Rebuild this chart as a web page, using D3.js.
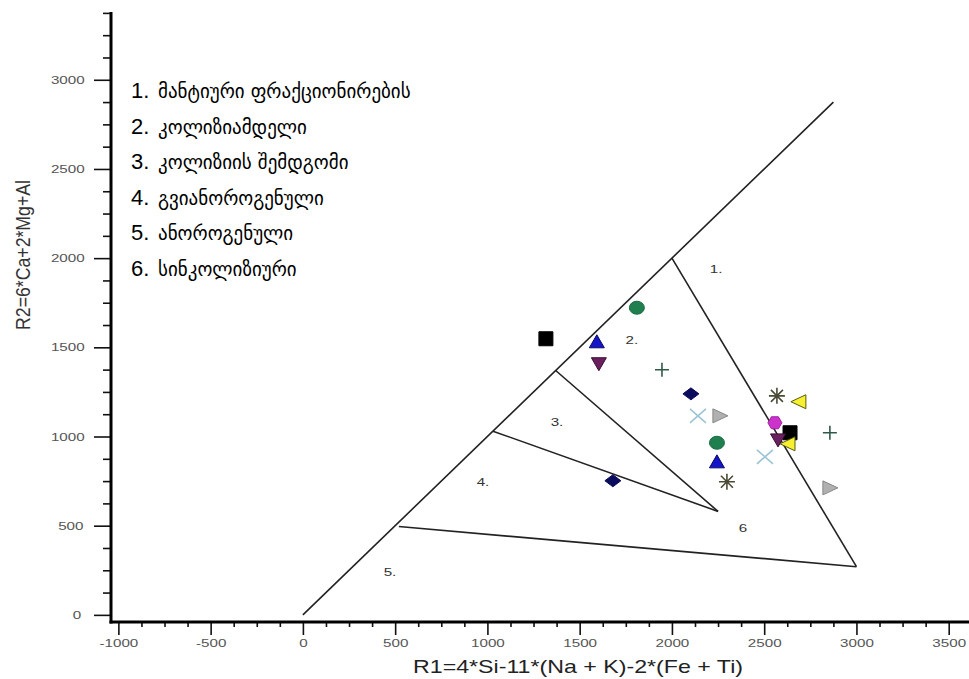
<!DOCTYPE html>
<html>
<head>
<meta charset="utf-8">
<script src="https://cdn.jsdelivr.net/npm/d3@7"></script>
<style>
  body { margin: 0; background: #fff; }
  .wide { transform-box: fill-box; transform-origin: center; transform: scaleX(1.38); }
</style>
</head>
<body>
<div id="graph"></div>
<script>
const width = 969;
const height = 679;

// axis ticks
const xTicks = [-1000, -500, 0, 500, 1000, 1500, 2000, 2500, 3000, 3500];
const yTicks = [0, 500, 1000, 1500, 2000, 2500, 3000];

// field boundaries (R1, R2)
const boundaries = [
  [[0, 0], [2875, 2875]],
  [[2000, 2000], [3000, 270]],
  [[520, 495], [3000, 270]],
  [[1370, 1370], [2250, 580]],
  [[1030, 1030], [2250, 580]]
];

// field numbers
const fieldLabels = ["1.", "2.", "3.", "4.", "5.", "6"];
const fieldPos = [[2240, 1940], [1783, 1542], [1377, 1082], [976, 746], [472, 241], [2385, 488]];

// legend
const legendItems = [
  "მანტიური ფრაქციონირების",
  "კოლიზიამდელი",
  "კოლიზიის შემდგომი",
  "გვიანოროგენული",
  "ანოროგენული",
  "სინკოლიზიური"
];

// samples (R1, R2)
const blackSquare = [[1317, 1548], [2640, 1021]];
const greenCircle = [[1810, 1722], [2244, 965]];
const blueTriangle = [[1593, 1531], [2244, 858]];
const purpleTriangleDown = [[1604, 1408], [2575, 981]];
const darkPlus = [[1946, 1374], [2856, 1021]];
const navyDiamond = [[2103, 1239], [1680, 752]];
const lightBlueX = [[2141, 1116], [2504, 886]];
const greyTriangleRight = [[2260, 1116], [2856, 712]];
const oliveAsterisk = [[2298, 746], [2569, 1228]];
const yellowTriangleLeft = [[2688, 1195], [2629, 959]];
const magentaHexagon = [[2558, 1077]];

const svg = d3.select("#graph")
  .append("svg")
  .attr("width", width)
  .attr("height", height)
  .style("font-family", "'Liberation Sans', Arial, sans-serif");

const x = d3.scaleLinear().domain([-1040, 3610]).range([111, 969]);
const y = d3.scaleLinear().domain([-40, 3380]).range([622, 12]);

const minorX = d3.range(-1000, 3600, 125).filter(v => v % 500 !== 0);
const minorY = d3.range(0, 3400, 125).filter(v => v % 500 !== 0);

// x axis
const gx = svg.append("g").attr("transform", `translate(0,${y.range()[0]})`);
gx.append("g").call(d3.axisBottom(x).tickValues(minorX).tickSize(5).tickFormat(""));
gx.append("g").call(d3.axisBottom(x).tickValues(xTicks).tickSize(13).tickPadding(4).tickFormat(d => String(d)));
gx.selectAll(".domain").remove();
gx.selectAll("line").attr("stroke", "#111").attr("stroke-width", 1.6);
gx.selectAll("text")
  .attr("class", "wide")
  .attr("font-size", 11)
  .attr("fill", "#555")
  .attr("font-family", "'Liberation Sans', Arial, sans-serif");

// y axis
const gy = svg.append("g").attr("transform", `translate(${x.range()[0]},0)`);
gy.append("g").call(d3.axisLeft(y).tickValues(minorY).tickSize(8).tickFormat(""));
gy.append("g").call(d3.axisLeft(y).tickValues(yTicks).tickSize(17).tickPadding(14).tickFormat(d => String(d)));
gy.selectAll(".domain").remove();
gy.selectAll("line").attr("stroke", "#111").attr("stroke-width", 1.6);
gy.selectAll("text")
  .attr("class", "wide")
  .attr("font-size", 11)
  .attr("fill", "#555")
  .attr("font-family", "'Liberation Sans', Arial, sans-serif");

// axis lines
svg.append("line")
  .attr("x1", x.range()[0]).attr("x2", x.range()[0])
  .attr("y1", y.range()[1]).attr("y2", y.range()[0] + 1.5)
  .attr("stroke", "#000").attr("stroke-width", 3);
svg.append("line")
  .attr("x1", x.range()[0] - 1.5).attr("x2", x.range()[1])
  .attr("y1", y.range()[0]).attr("y2", y.range()[0])
  .attr("stroke", "#000").attr("stroke-width", 3);

// axis titles
svg.append("text")
  .attr("x", 578).attr("y", 673)
  .attr("text-anchor", "middle")
  .attr("font-size", 19)
  .attr("fill", "#222")
  .attr("textLength", 330)
  .attr("lengthAdjust", "spacingAndGlyphs")
  .text("R1=4*Si-11*(Na + K)-2*(Fe + Ti)");

svg.append("text")
  .attr("transform", "translate(30,255) rotate(-90) scale(1,1.2)")
  .attr("text-anchor", "middle")
  .attr("font-size", 17)
  .attr("fill", "#333")
  .attr("textLength", 150)
  .attr("lengthAdjust", "spacingAndGlyphs")
  .text("R2=6*Ca+2*Mg+Al");

// field boundaries
const line = d3.line().x(d => x(d[0])).y(d => y(d[1]));
svg.append("g")
  .selectAll("path")
  .data(boundaries)
  .join("path")
  .attr("d", line)
  .attr("fill", "none")
  .attr("stroke", "#222")
  .attr("stroke-width", 1.6);

// field numbers
svg.append("g")
  .selectAll("text")
  .data(fieldLabels)
  .join("text")
  .attr("class", "wide")
  .attr("x", (d, i) => x(fieldPos[i][0]))
  .attr("y", (d, i) => y(fieldPos[i][1]))
  .attr("dy", "0.35em")
  .attr("text-anchor", "middle")
  .attr("font-size", 11)
  .attr("fill", "#333")
  .text(d => d);

// marker shapes, in pixels around (0,0)
const shapes = {
  square: "M-7,-7H7V7H-7Z",
  circle: "M-7.5,0A7.5,6.5 0 1,0 7.5,0A7.5,6.5 0 1,0 -7.5,0Z",
  triUp: "M0,-7L7.5,6H-7.5Z",
  triDown: "M0,7L7.5,-6H-7.5Z",
  triRight: "M8,0L-7,-7V7Z",
  triLeft: "M-8,0L7,-7V7Z",
  diamond: "M0,-6L8,0L0,6L-8,0Z",
  hexagon: "M-7,0L-3.5,-6H3.5L7,0L3.5,6H-3.5Z",
  plus: "M-7,0H7M0,-7V7",
  cross: "M-8,-7L8,7M-8,7L8,-7",
  asterisk: "M-8,0H8M0,-8V8M-6,-6L6,6M-6,6L6,-6"
};

const series = [
  {data: magentaHexagon, shape: "hexagon", fill: "#cc33cc", stroke: "#a020a0"},
  {data: blackSquare, shape: "square", fill: "#000", stroke: "#000"},
  {data: greenCircle, shape: "circle", fill: "#1f7f4f", stroke: "#1a6a40"},
  {data: blueTriangle, shape: "triUp", fill: "#1414c8", stroke: "#0a0a60"},
  {data: purpleTriangleDown, shape: "triDown", fill: "#6a1f5f", stroke: "#3a1030"},
  {data: darkPlus, shape: "plus", fill: "none", stroke: "#2f5a48"},
  {data: navyDiamond, shape: "diamond", fill: "#0c0c5c", stroke: "#0c0c5c"},
  {data: lightBlueX, shape: "cross", fill: "none", stroke: "#9cc4d4"},
  {data: greyTriangleRight, shape: "triRight", fill: "#b0b0b0", stroke: "#888"},
  {data: oliveAsterisk, shape: "asterisk", fill: "none", stroke: "#4a4a36"},
  {data: yellowTriangleLeft, shape: "triLeft", fill: "#f6f030", stroke: "#5a5a10"}
];

series.forEach(s => {
  svg.append("g")
    .selectAll("path")
    .data(s.data)
    .join("path")
    .attr("transform", d => `translate(${x(d[0])},${y(d[1])})`)
    .attr("d", shapes[s.shape])
    .attr("fill", s.fill)
    .attr("stroke", s.stroke)
    .attr("stroke-width", s.fill === "none" ? 1.6 : 1);
});

// legend
const legend = svg.append("g").attr("transform", "translate(131,90)");
const rows = legend.selectAll("g")
  .data(legendItems)
  .join("g")
  .attr("transform", (d, i) => `translate(0,${i * 35.6})`);
rows.append("text")
  .attr("y", 8)
  .attr("font-size", 22)
  .attr("fill", "#000")
  .text((d, i) => `${i + 1}.`);
rows.append("text")
  .attr("x", 27)
  .attr("y", 8)
  .attr("font-size", 19)
  .attr("font-family", "'DejaVu Sans', sans-serif")
  .attr("fill", "#000")
  .text(d => d);
</script>
</body>
</html>
